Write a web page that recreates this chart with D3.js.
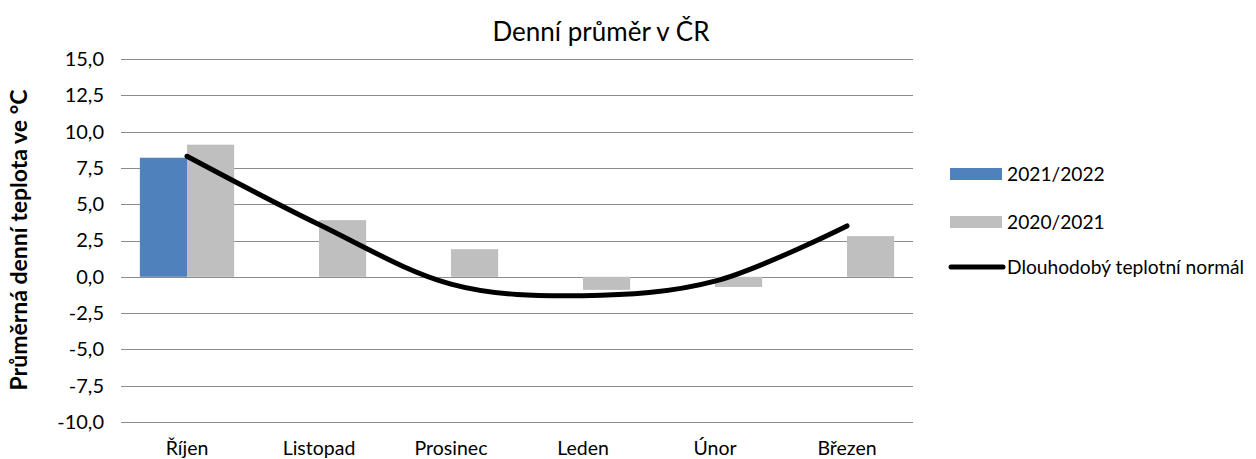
<!DOCTYPE html>
<html><head><meta charset="utf-8">
<script src="https://cdn.jsdelivr.net/npm/d3@7"></script>
<style>body{margin:0;background:#fff}svg{display:block;font-family:Lato,"Open Sans",sans-serif}</style>
</head><body><svg id="c" width="1256" height="459"></svg>
<script>
const categories = ["Říjen","Listopad","Prosinec","Leden","Únor","Březen"];
const series2122 = [8.2, null, null, null, null, null];
const series2021 = [9.1, 3.9, 1.9, -0.9, -0.7, 2.8];
const normal = [8.3, 3.6, -0.5, -1.3, -0.3, 3.5];
const yTicks = [-10, -7.5, -5, -2.5, 0, 2.5, 5, 7.5, 10, 12.5, 15];
const seriesNames = ["2021/2022","2020/2021"];
const lineName = "Dlouhodobý teplotní normál";

const svg = d3.select("#c");
const x0 = d3.scaleBand().domain(categories).range([121, 913]).padding(0);
const x1 = d3.scaleBand().domain(seriesNames).range([0, x0.bandwidth()]).paddingInner(0).paddingOuter(0.4);
const y = d3.scaleLinear().domain([-10, 15]).range([422, 59]);
const color = {"2021/2022":"#4F81BD","2020/2021":"#BFBFBF"};
const fmt = v => d3.format(".1f")(v).replace(".", ",").replace("−","-");

// gridlines
svg.append("g").selectAll("line").data(yTicks).join("line")
  .attr("x1", 121).attr("x2", 913)
  .attr("y1", d => Math.round(y(d)) + 0.5).attr("y2", d => Math.round(y(d)) + 0.5)
  .attr("stroke", "#8c8c8c").attr("stroke-width", 1.2);

// y axis labels via axis
const yAxis = d3.axisLeft(y).tickValues(yTicks).tickFormat(fmt).tickSize(0).tickPadding(0);
const gy = svg.append("g").attr("transform", "translate(104,0)").call(yAxis);
gy.select(".domain").remove();
gy.selectAll("text").attr("font-family", "Lato").attr("font-size", 20).attr("fill", "#000");

// x axis labels
const xAxis = d3.axisBottom(x0).tickSize(0).tickPadding(0);
const gx = svg.append("g").attr("transform", "translate(0,441)").call(xAxis);
gx.select(".domain").remove();
gx.selectAll("text").attr("font-family", "Lato").attr("font-size", 19.5).attr("fill", "#000");

// bars
const data = [];
categories.forEach((c, i) => {
  data.push({c, s: "2021/2022", v: series2122[i]});
  data.push({c, s: "2020/2021", v: series2021[i]});
});
svg.append("g").selectAll("rect").data(data.filter(d => d.v != null)).join("rect")
  .attr("x", d => x0(d.c) + x1(d.s))
  .attr("width", x1.bandwidth())
  .attr("y", d => Math.min(y(d.v), y(0)))
  .attr("height", d => Math.abs(y(d.v) - y(0)))
  .attr("fill", d => color[d.s]);

// line
const line = d3.line()
  .x((d, i) => x0(categories[i]) + x0.bandwidth() / 2)
  .y(d => y(d))
  .curve(d3.curveCardinal.tension(0));
svg.append("path").datum(normal).attr("d", line)
  .attr("fill", "none").attr("stroke", "#000").attr("stroke-width", 5).attr("stroke-linecap", "round");

// title
svg.append("text").attr("x", 601).attr("y", 41).attr("text-anchor", "middle")
  .attr("font-size", 26).attr("fill", "#000").text("Denní průměr v ČR");

// y title
svg.append("text").attr("transform", "translate(27,240) rotate(-90)").attr("text-anchor", "middle")
  .attr("font-size", 23).attr("font-weight", "bold").attr("fill", "#000").text("Průměrná denní teplota ve °C");

// legend
const lg = svg.append("g");
const legY = [174, 222];
seriesNames.forEach((s, i) => {
  lg.append("rect").attr("x", 950).attr("y", legY[i] - 6).attr("width", 52).attr("height", 12).attr("fill", color[s]);
  lg.append("text").attr("x", 1007).attr("y", legY[i]).attr("dy", "0.35em").attr("font-size", 19.2).attr("fill", "#000").text(s);
});
lg.append("line").attr("x1", 951).attr("x2", 1003).attr("y1", 267).attr("y2", 267)
  .attr("stroke", "#000").attr("stroke-width", 5).attr("stroke-linecap", "round");
lg.append("text").attr("x", 1007).attr("y", 267).attr("dy", "0.35em").attr("font-size", 19.2).attr("fill", "#000").text(lineName);
</script></body></html>
